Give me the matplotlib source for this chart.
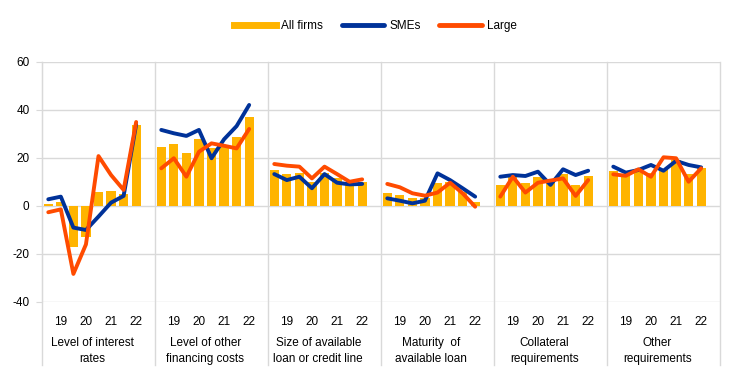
import matplotlib
matplotlib.use("Agg")
import matplotlib.pyplot as plt
from matplotlib.lines import Line2D
import numpy as np

plt.rcParams['font.family'] = ['Liberation Sans', 'DejaVu Sans']
plt.rcParams['axes.unicode_minus'] = False

categories = ["Level of interest\nrates", "Level of other\nfinancing costs",
              "Size of available\nloan or credit line", "Maturity  of\navailable loan",
              "Collateral\nrequirements", "Other\nrequirements"]
year_labels = ["19", "20", "21", "22"]

all_firms = [
    [0.7, 1.8, -17.0, -12.8, 5.7, 6.4, 4.9, 33.6],
    [24.7, 25.7, 22.2, 27.8, 24.0, 24.7, 28.9, 37.2],
    [15.0, 13.3, 13.9, 10.0, 13.6, 11.5, 10.1, 10.1],
    [5.6, 4.6, 3.2, 3.2, 9.7, 10.1, 6.0, 1.8],
    [8.8, 12.2, 9.4, 12.2, 10.1, 13.3, 8.8, 12.5],
    [14.7, 13.3, 15.0, 13.9, 15.3, 19.2, 13.3, 15.7],
]
smes = [
    [2.8, 3.9, -9.0, -10.0, -4.4, 1.4, 4.2, 34.0],
    [31.7, 30.3, 29.2, 31.7, 19.9, 27.8, 33.3, 42.1],
    [13.3, 10.8, 12.2, 7.4, 13.3, 9.7, 9.0, 9.2],
    [3.2, 2.2, 1.1, 2.2, 13.6, 10.8, 7.4, 3.9],
    [12.2, 12.9, 12.5, 14.3, 8.8, 15.3, 12.9, 14.7],
    [16.4, 13.9, 15.0, 17.1, 14.7, 18.8, 17.1, 16.1],
]
large = [
    [-2.6, -1.4, -28.3, -16.0, 20.8, 12.9, 6.7, 35.0],
    [15.7, 19.9, 12.2, 22.6, 26.1, 25.1, 24.0, 32.1],
    [17.5, 16.8, 16.4, 11.5, 16.4, 13.3, 10.1, 11.1],
    [9.2, 7.8, 5.3, 4.3, 5.6, 9.7, 5.3, -0.3],
    [3.9, 12.2, 5.6, 9.7, 10.6, 11.5, 4.2, 10.8],
    [13.2, 12.6, 15.3, 12.2, 20.3, 19.9, 10.1, 15.7],
]

C_ALL = "#FFB400"
C_SME = "#003299"
C_LARGE = "#FF4B00"
GRID = "#D9D9D9"

fig = plt.figure(figsize=(7.43, 3.75), dpi=100)
ax = fig.add_axes([42/743, 1-302/375, 678/743, 240/375])

slots = 9
n = len(categories)
for g in range(n):
    x = np.arange(8) + g*slots
    ax.bar(x, all_firms[g], width=0.74, color=C_ALL, zorder=2)
    ax.plot(x, smes[g], color=C_SME, lw=2.8, solid_capstyle='round', solid_joinstyle='round', zorder=3)
    ax.plot(x, large[g], color=C_LARGE, lw=2.8, solid_capstyle='round', solid_joinstyle='round', zorder=4)

ax.set_xlim(-0.5, n*slots - 0.5)
ax.set_ylim(-40, 60)
ax.set_yticks([-40, -20, 0, 20, 40, 60])
ax.tick_params(axis='y', length=4, width=0.8, color=GRID, labelsize=8.5, pad=5)
ax.yaxis.grid(True, color=GRID, lw=1, zorder=0)
ax.set_axisbelow(True)
for s in ['top', 'right', 'bottom']:
    ax.spines[s].set_visible(False)
ax.spines['left'].set_color(GRID)

# x tick labels (years) at every second slot
xt = []
xl = []
for g in range(n):
    for k, lab in enumerate(year_labels):
        xt.append(g*slots + 1 + 2*k)
        xl.append(lab)
ax.set_xticks(xt)
ax.set_xticklabels(xl, fontsize=8.5)
ax.tick_params(axis='x', length=0, pad=10)

# group separators extending below the axes
trans = ax.get_xaxis_transform()
for g in range(n + 1):
    xb = g*slots - 0.5
    ax.plot([xb, xb], [1, -63/240], transform=trans, color=GRID, lw=1, clip_on=False, zorder=1)

# category labels
for g, cat in enumerate(categories):
    ax.text(g*slots + 3.5, -35/240, cat, transform=trans, ha='center', va='top',
            fontsize=8.5, linespacing=1.4)

handles = [Line2D([0], [0], color=C_ALL, lw=5),
           Line2D([0], [0], color=C_SME, lw=3.5, solid_capstyle='round'),
           Line2D([0], [0], color=C_LARGE, lw=3.5, solid_capstyle='round')]
fig.legend(handles, ["All firms", "SMEs", "Large"], loc='center', bbox_to_anchor=(0.505, 0.93),
           ncol=3, frameon=False, fontsize=8.5, handlelength=3.6, handletextpad=0.4, columnspacing=1.6)

fig.savefig("out.png", dpi=100)
